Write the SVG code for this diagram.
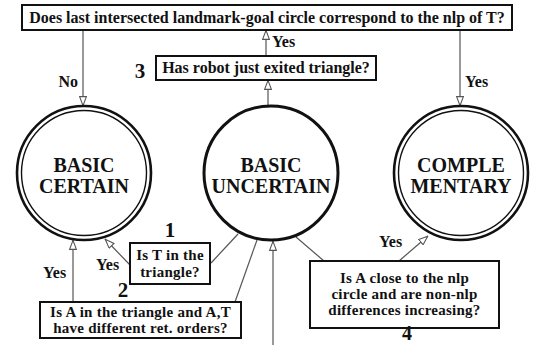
<svg xmlns="http://www.w3.org/2000/svg" width="534" height="345" viewBox="0 0 534 345">
<defs>
<style>
text{font-family:"Liberation Serif","Times New Roman",serif;font-weight:bold;fill:#111}
.t{font-size:16px;text-anchor:middle}
.m{font-size:15px;text-anchor:middle;letter-spacing:0.25px}
.c{font-size:20px;text-anchor:middle}
.n{font-size:21px;text-anchor:middle}
.l{font-size:16px}
.box{fill:#fff;stroke:#111;stroke-width:2}
.ln{stroke:#555;stroke-width:1.2;fill:none}
.ar{marker-end:url(#ah)}
</style>
<marker id="ah" markerUnits="userSpaceOnUse" viewBox="0 0 10 8" refX="10" refY="4" markerWidth="10" markerHeight="8" orient="auto">
<path d="M0.6,0.6 L9.6,4 L0.6,7.4 Z" fill="#fff" stroke="#555" stroke-width="1.1"/>
</marker>
</defs>
<rect width="534" height="345" fill="#fff"/>
<g id="connectors">
<line class="ln ar" x1="83" y1="30" x2="83" y2="106"/>
<line class="ln ar" x1="460" y1="30" x2="460" y2="106"/>
<line class="ln ar" x1="266" y1="56" x2="266" y2="30"/>
<line class="ln ar" x1="268" y1="106" x2="268" y2="80"/>
<line class="ln ar" x1="130" y1="265" x2="105" y2="239"/>
<line class="ln ar" x1="73" y1="302" x2="73" y2="240"/>
<line class="ln" x1="211" y1="263" x2="238" y2="234"/>
<line class="ln" x1="235" y1="302" x2="257" y2="240"/>
<line class="ln ar" x1="273" y1="345" x2="273" y2="241"/>
<line class="ln" x1="324" y1="261" x2="296" y2="237"/>
<line class="ln ar" x1="399" y1="261" x2="428" y2="236"/>
<text class="l" x="78" y="87" text-anchor="end">No</text>
<text class="l" x="465" y="87">Yes</text>
<text class="l" x="272" y="47">Yes</text>
<text class="l" x="43" y="278">Yes</text>
<text class="l" x="96" y="270">Yes</text>
<text class="l" x="379" y="247">Yes</text>
</g>
<g id="q0">
<rect class="box" x="22" y="5" width="490" height="25"/>
<text class="t" x="267" y="23">Does last intersected landmark-goal circle correspond to the nlp of T?</text>
</g>
<g id="q3">
<rect class="box" x="156" y="56" width="220" height="24"/>
<text class="t" x="266" y="73">Has robot just exited triangle?</text>
<text class="n" x="140" y="78">3</text>
</g>
<g id="basic-certain">
<circle cx="84" cy="173" r="67" fill="none" stroke="#111" stroke-width="2.6"/>
<circle cx="84" cy="173" r="62.5" fill="none" stroke="#111" stroke-width="1.4"/>
<text class="c" x="84" y="172">BASIC</text>
<text class="c" x="84" y="193">CERTAIN</text>
</g>
<g id="basic-uncertain">
<circle cx="271" cy="173" r="67" fill="none" stroke="#111" stroke-width="3"/>
<text class="c" x="271" y="172">BASIC</text>
<text class="c" x="271" y="193">UNCERTAIN</text>
</g>
<g id="complementary">
<circle cx="461" cy="173" r="67" fill="none" stroke="#111" stroke-width="2.6"/>
<circle cx="461" cy="173" r="62.5" fill="none" stroke="#111" stroke-width="1.4"/>
<text class="c" x="461" y="172">COMPLE</text>
<text class="c" x="461" y="193">MENTARY</text>
</g>
<g id="q1">
<rect class="box" x="130" y="243" width="80" height="41"/>
<text class="m" x="170" y="260">Is T in the</text>
<text class="m" x="170" y="277">triangle?</text>
<text class="n" x="170" y="237">1</text>
</g>
<g id="q2">
<rect class="box" x="40" y="302" width="201" height="36"/>
<text class="m" x="140.5" y="316.5">Is A in the triangle and A,T</text>
<text class="m" x="140.5" y="333">have different ret. orders?</text>
<text class="n" x="123" y="297">2</text>
</g>
<g id="q4">
<rect class="box" x="310" y="261" width="189" height="67"/>
<text class="m" x="404.5" y="283">Is A close to the nlp</text>
<text class="m" x="404.5" y="299">circle and are non-nlp</text>
<text class="m" x="404.5" y="315">differences increasing?</text>
<text class="n" x="407" y="340" style="font-size:20px">4</text>
</g>
</svg>
